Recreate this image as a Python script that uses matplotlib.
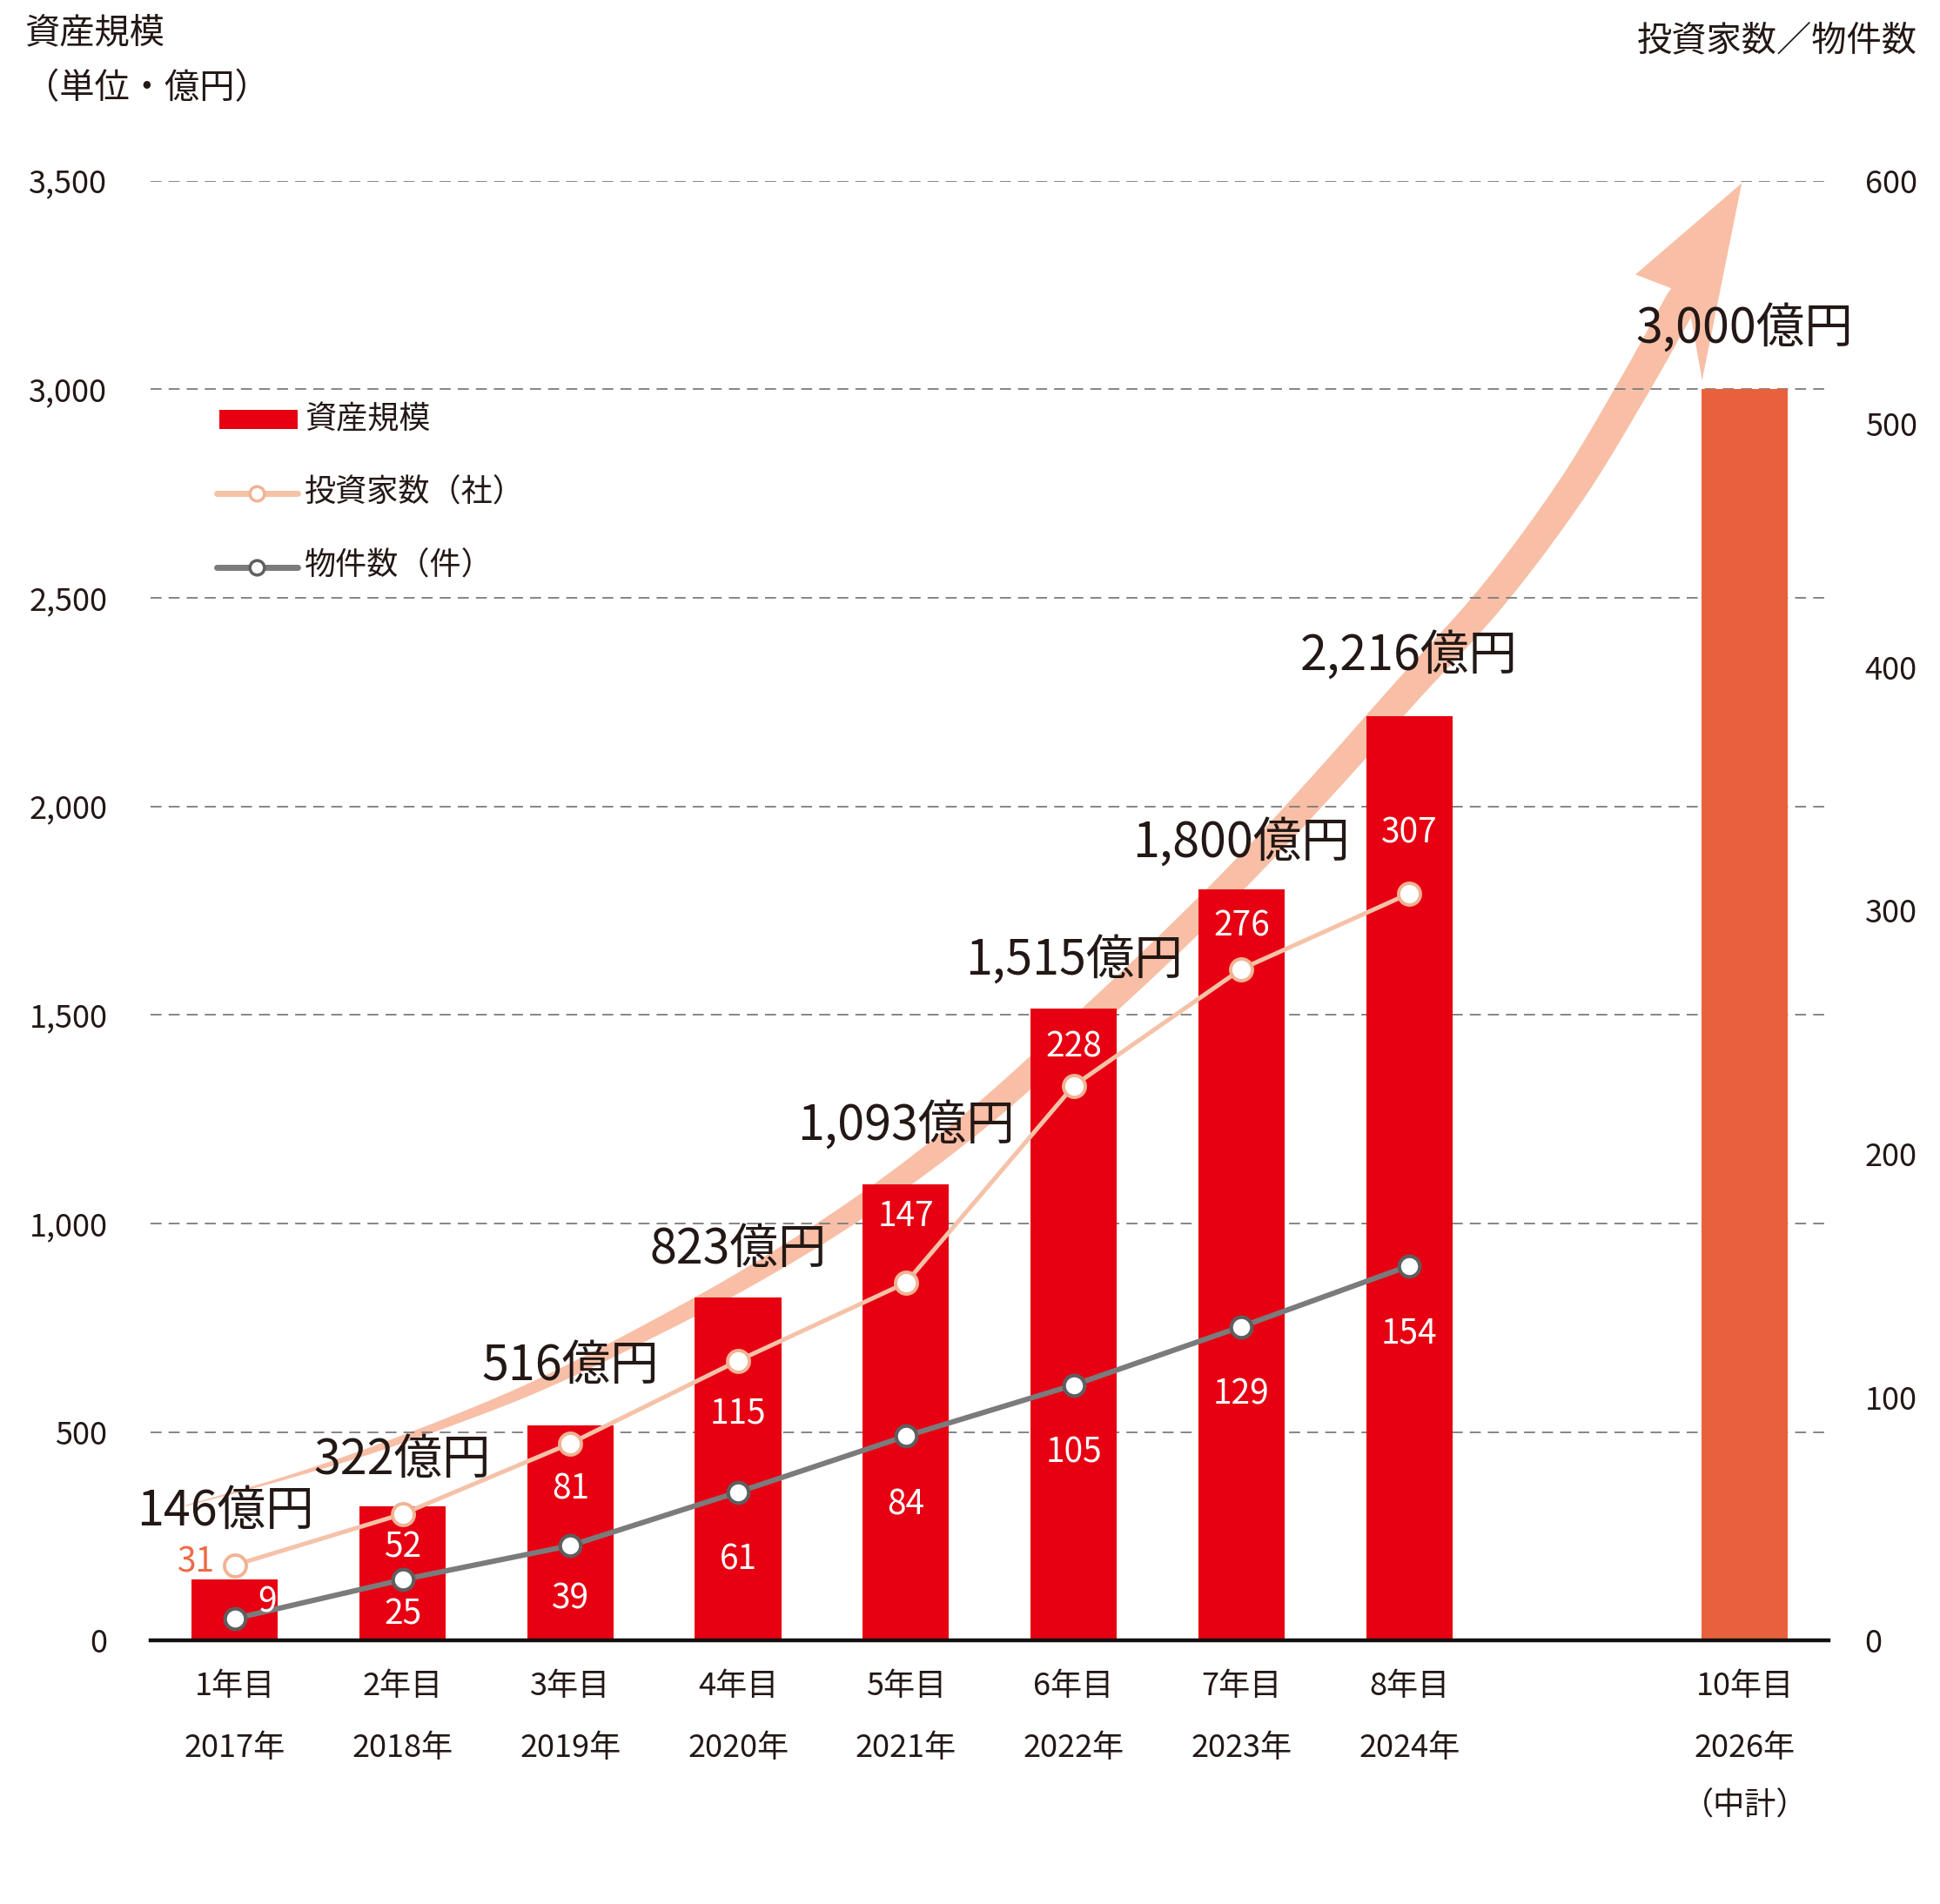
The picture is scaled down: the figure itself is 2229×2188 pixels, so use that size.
import numpy as np
import matplotlib
matplotlib.use("Agg")
import matplotlib.pyplot as plt
from matplotlib.patches import Polygon, Rectangle
from matplotlib.lines import Line2D

plt.rcParams["font.family"] = ["Noto Sans CJK JP", "DejaVu Sans"]

# data
positions = [0, 1, 2, 3, 4, 5, 6, 7, 9]
year_labels = ["1年目", "2年目", "3年目", "4年目", "5年目", "6年目", "7年目", "8年目", "10年目"]
cal_labels = ["2017年", "2018年", "2019年", "2020年", "2021年", "2022年", "2023年", "2024年", "2026年"]
assets = [146, 322, 516, 823, 1093, 1515, 1800, 2216, 3000]
investors = [31, 52, 81, 115, 147, 228, 276, 307]
properties = [9, 25, 39, 61, 84, 105, 129, 154]
left_ticks = [0, 500, 1000, 1500, 2000, 2500, 3000, 3500]
right_ticks = [0, 100, 200, 300, 400, 500, 600]

# label offsets in points (dx, dy)
asset_off = [(-8, 56), (0, 38), (0, 49), (0, 39), (0, 48), (0, 39), (0, 38), (0, 49), (0, 49)]
inv_off = [(-32, 2), (0, -28), (0, -38), (0, -44), (0, 55), (0, 32), (0, 35), (0, 50)]
prop_off = [(27, 13), (0, -29), (0, -44), (0, -56), (0, -57), (0, -56), (0, -56), (0, -56)]

# decorative growth arrow (centre line in data units, half width in px)
arrow_x = [-0.295, 0.295, 0.885, 1.549, 1.998, 2.507, 3.001, 3.525, 4.004, 4.499,
           5.0, 5.501, 6.003, 6.490, 6.976, 7.500, 7.965, 8.333, 8.621]
arrow_y = [323, 389, 466, 567, 647, 750, 857, 985, 1118, 1275,
           1456, 1643, 1842, 2053, 2272, 2506, 2758, 3002, 3209]
arrow_hw = [0.6, 1.8, 4, 6, 7.5, 9, 10.5, 12, 13, 14,
            14.5, 15, 15.5, 16, 16.5, 17, 17.5, 18, 18.5]
head_x = [8.562, 8.348, 8.982, 8.746, 8.680]
head_y = [3242, 3275, 3494, 3022, 3171]

RED = "#E60012"
ORANGE = "#E9613C"
ARROW = "#F8BFA6"
INV = "#F5C2A8"
INV_EDGE = "#F1B393"
GRAY = "#7B7B7B"
GRAY_EDGE = "#5E5E5E"
TXT = "#231815"

fig = plt.figure(figsize=(22.29, 21.88), dpi=100)
ax = fig.add_axes([0.0778, 0.1384, 0.8648, 0.7667])
ax.set_xlim(-0.5, 9.5)
ax.set_ylim(0, 3500)
ax2 = ax.twinx()
ax2.set_ylim(0, 600)


def catmull(P, n=16):
    P = np.vstack([2 * P[0] - P[1], P, 2 * P[-1] - P[-2]])
    out = []
    t = np.linspace(0, 1, n, endpoint=False)[:, None]
    for i in range(1, len(P) - 2):
        p0, p1, p2, p3 = P[i - 1], P[i], P[i + 1], P[i + 2]
        out.append(0.5 * (2 * p1 + (-p0 + p2) * t + (2 * p0 - 5 * p1 + 4 * p2 - p3) * t ** 2
                          + (-p0 + 3 * p1 - 3 * p2 + p3) * t ** 3))
    out.append(P[-2][None])
    return np.vstack(out)


pix = ax.transData.transform(np.column_stack([arrow_x, arrow_y]))
curve = catmull(np.column_stack([pix, arrow_hw]))
c, hw = curve[:, :2], curve[:, 2]
tang = np.gradient(c, axis=0)
tang /= np.linalg.norm(tang, axis=1)[:, None]
norm = np.column_stack([-tang[:, 1], tang[:, 0]])
left_edge = c + norm * hw[:, None]
right_edge = c - norm * hw[:, None]
head = ax.transData.transform(np.column_stack([head_x, head_y]))
verts_px = np.vstack([left_edge, head, right_edge[::-1]])
verts = ax.transData.inverted().transform(verts_px)
ax.add_patch(Polygon(verts, closed=True, fc=ARROW, ec="none", zorder=0.8, clip_on=False))

# grid
for v in left_ticks[1:]:
    ax.axhline(v, color="#7C7C7C", lw=1.3, ls=(0, (7, 4.5)), zorder=1)

# bars
bar_colors = [RED] * 8 + [ORANGE]
ax.bar(positions, assets, width=0.515, color=bar_colors, zorder=2)

for x, v, (dx, dy) in zip(positions, assets, asset_off):
    ax.annotate(f"{v:,}億円", (x, v), xytext=(dx, dy), textcoords="offset points",
                ha="center", va="center", fontsize=40, color=TXT, zorder=5)

# lines
ax2.plot(positions[:8], investors, color=INV, lw=3.6, marker="o", ms=18,
         mfc="white", mec=INV_EDGE, mew=2.8, zorder=3)
ax2.plot(positions[:8], properties, color=GRAY, lw=4.4, marker="o", ms=17,
         mfc="white", mec=GRAY_EDGE, mew=3, zorder=3)

for i, (x, v, (dx, dy)) in enumerate(zip(positions, investors, inv_off)):
    col = "#EE6B45" if i == 0 else "white"
    ax2.annotate(str(v), (x, v), xytext=(dx, dy), textcoords="offset points",
                 ha="center", va="center", fontsize=28, color=col, zorder=5)
for x, v, (dx, dy) in zip(positions, properties, prop_off):
    ax2.annotate(str(v), (x, v), xytext=(dx, dy), textcoords="offset points",
                 ha="center", va="center", fontsize=28, color="white", zorder=5)

# axes styling
for a in (ax, ax2):
    for s in ("top", "left", "right", "bottom"):
        a.spines[s].set_visible(False)
ax.spines["bottom"].set_visible(True)
ax.spines["bottom"].set_linewidth(3.2)
ax.spines["bottom"].set_color("#111111")
ax.spines["bottom"].set_zorder(6)

ax.set_yticks(left_ticks)
ax.set_yticklabels([f"{v:,}" for v in left_ticks])
ax.tick_params(axis="y", length=0, pad=36, labelsize=26, labelcolor=TXT)
ax2.set_yticks(right_ticks)
ax2.set_yticklabels([str(v) for v in right_ticks])
ax2.tick_params(axis="y", length=0, pad=30, labelsize=26, labelcolor=TXT)
ax.set_xticks([])

xt = ax.get_xaxis_transform()
for x, y1, y2 in zip(positions, year_labels, cal_labels):
    ax.text(x, -0.0314, y1, transform=xt, ha="center", va="center", fontsize=26, color=TXT)
    ax.text(x, -0.0737, y2, transform=xt, ha="center", va="center", fontsize=26, color=TXT)
ax.text(positions[-1], -0.1136, "（中計）", transform=xt, ha="center", va="center",
        fontsize=26, color=TXT)

# titles
fig.text(0.0126, 0.9826, "資産規模", ha="left", va="center", fontsize=29, color=TXT)
fig.text(0.0126, 0.9536, "（単位・億円）", ha="left", va="center", fontsize=29, color=TXT)
fig.text(0.9883, 0.9787, "投資家数／物件数", ha="right", va="center", fontsize=29, color=TXT)

# legend
fig.add_artist(Rectangle((0.1131, 0.7747), 0.0404, 0.01005, transform=fig.transFigure,
                         fc=RED, ec="none"))
fig.text(0.1570, 0.7797, "資産規模", ha="left", va="center", fontsize=26, color=TXT)
fig.add_artist(Line2D([0.1117, 0.1534], [0.7409, 0.7409], transform=fig.transFigure,
                      color=INV, lw=5, solid_capstyle="round"))
fig.add_artist(Line2D([0.1325], [0.7409], transform=fig.transFigure, marker="o", ms=12,
                      mfc="white", mec=INV_EDGE, mew=2.5, ls="none"))
fig.text(0.1570, 0.7413, "投資家数（社）", ha="left", va="center", fontsize=26, color=TXT)
fig.add_artist(Line2D([0.1117, 0.1534], [0.7020, 0.7020], transform=fig.transFigure,
                      color=GRAY, lw=5, solid_capstyle="round"))
fig.add_artist(Line2D([0.1325], [0.7020], transform=fig.transFigure, marker="o", ms=12,
                      mfc="white", mec=GRAY_EDGE, mew=2.5, ls="none"))
fig.text(0.1570, 0.7029, "物件数（件）", ha="left", va="center", fontsize=26, color=TXT)

fig.savefig("out.png", dpi=100)
